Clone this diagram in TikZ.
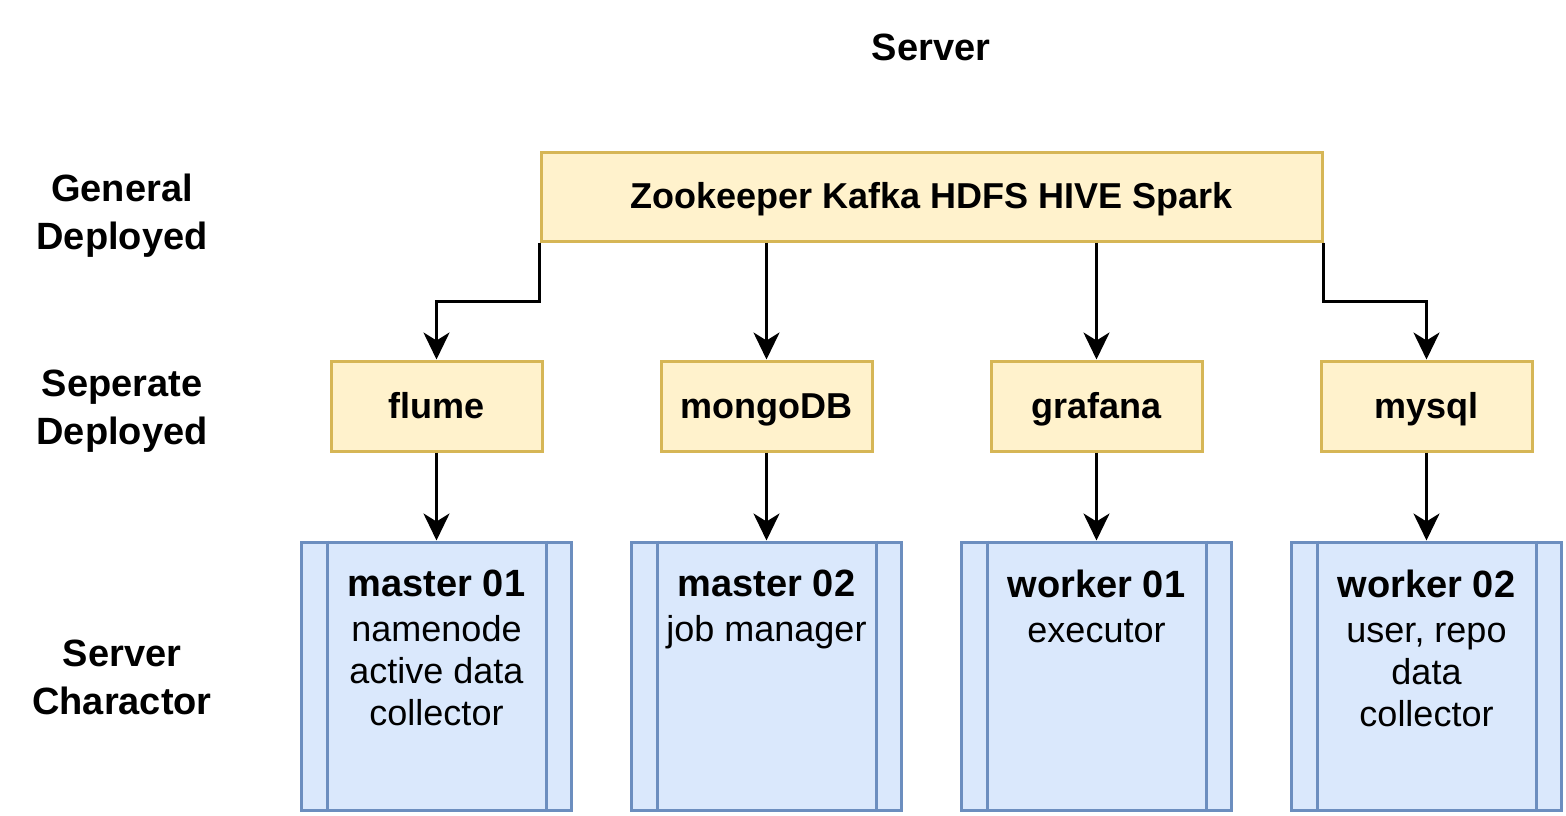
\documentclass[tikz,border=0pt]{standalone}
\usepackage{fontspec}
\setmainfont{Liberation Sans}
\usetikzlibrary{arrows.meta}
\definecolor{yfill}{HTML}{FFF2CC}
\definecolor{ydraw}{HTML}{D6B656}
\definecolor{bfill}{HTML}{DAE8FC}
\definecolor{bdraw}{HTML}{6C8EBF}
\tikzset{
  ybox/.style={draw=ydraw, fill=yfill, line width=3pt, minimum height=89pt, inner sep=0pt,
    text height=32pt, text depth=8pt, font=\bfseries\fontsize{36}{42}\selectfont},
  pbox/.style={draw=bdraw, fill=bfill, line width=3pt, minimum width=270pt, minimum height=268pt, inner sep=0pt},
  ptext/.style={anchor=north, align=center, inner sep=0pt, font=\fontsize{36}{42}\selectfont},
  side/.style={align=center, font=\bfseries\fontsize{38}{48}\selectfont},
  arr/.style={line width=3pt, -{Stealth[length=27pt, width=26pt, inset=8pt]}},
}
\begin{document}
\begin{tikzpicture}[x=1pt, y=-1pt]
\useasboundingbox (0,0) rectangle (1566,816);
\node[font=\bfseries\fontsize{38}{46}\selectfont] (title) at (931,47) {Server};
\node[side] (lg) at (122,216) {General\\Deployed};
\node[side] (ls) at (122,411) {Seperate\\Deployed};
\node[side] (lc) at (122,677) {Server\\Charactor};

\node[ybox, minimum width=781pt] (top) at (931.5,196.5) {Zookeeper Kafka HDFS HIVE Spark};

\node[ybox, minimum width=211pt, minimum height=90pt] (flume) at (436.5,406) {flume};
\node[ybox, minimum width=211pt, minimum height=90pt] (mongo) at (766.5,406) {mongoDB};
\node[ybox, minimum width=211pt, minimum height=90pt] (graf) at (1096.5,406) {grafana};
\node[ybox, minimum width=211pt, minimum height=90pt] (mysql) at (1426.5,406) {mysql};

\foreach \n/\x in {m1/436.5, m2/766.5, w1/1096.5, w2/1426.5}{
  \node[pbox] (\n) at (\x,676) {};
  \draw[bdraw, line width=3pt] ([xshift=27pt]\n.north west) -- ([xshift=27pt]\n.south west);
  \draw[bdraw, line width=3pt] ([xshift=-27pt]\n.north east) -- ([xshift=-27pt]\n.south east);
}
\node[ptext] (t1) at ([yshift=-29pt]m1.north) {{\bfseries\fontsize{38}{46}\selectfont master 01}\\[3pt]namenode\\active data\\collector};
\node[ptext] (t2) at ([yshift=-29pt]m2.north) {{\bfseries\fontsize{38}{46}\selectfont master 02}\\[3pt]job manager};
\node[ptext] (t3) at ([yshift=-29pt]w1.north) {{\bfseries\fontsize{38}{46}\selectfont worker 01}\\[3pt]executor};
\node[ptext] (t4) at ([yshift=-29pt]w2.north) {{\bfseries\fontsize{38}{46}\selectfont worker 02}\\[3pt]user, repo\\data\\collector};

\coordinate (jl) at (436.5,301);
\coordinate (jr) at (1426.5,301);
\draw[arr] (top.south west) |- (jl) -- (flume.north);
\draw[arr] (top.south east) |- (jr) -- (mysql.north);
\draw[arr] (top.south -| mongo.north) -- (mongo.north);
\draw[arr] (top.south -| graf.north) -- (graf.north);

\draw[arr] (flume.south) -- (m1.north);
\draw[arr] (mongo.south) -- (m2.north);
\draw[arr] (graf.south) -- (w1.north);
\draw[arr] (mysql.south) -- (w2.north);
\end{tikzpicture}
\end{document}
